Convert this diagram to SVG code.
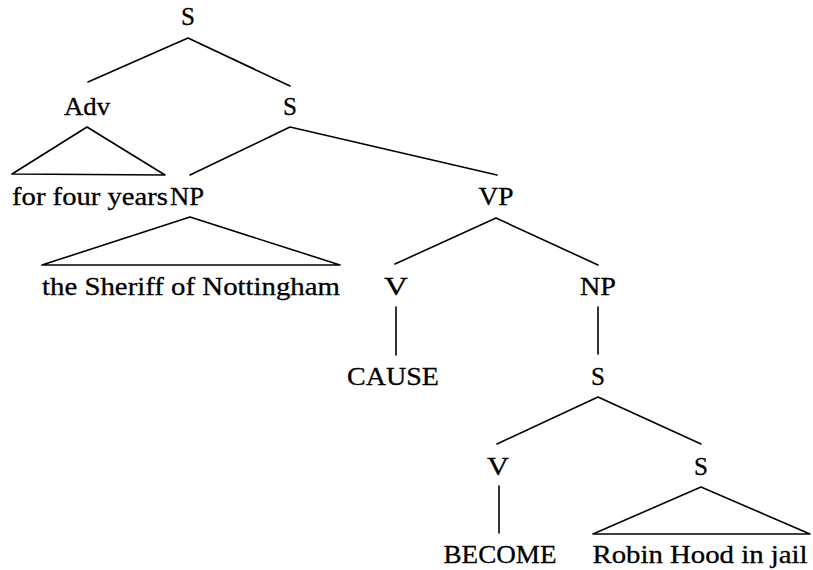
<svg xmlns="http://www.w3.org/2000/svg" width="813" height="570" viewBox="0 0 813 570">
<style>
text{font-family:"Liberation Serif","Times New Roman",serif;font-size:25px;fill:#000;text-anchor:middle;stroke:#000;stroke-width:0.3}
.e{stroke:#000;stroke-width:1.6;fill:none;stroke-linecap:round;stroke-linejoin:round}
</style>
<rect width="813" height="570" fill="#fff"/>
<g id="connectors">
<polyline class="e" points="88,82 188,38 290,86"/>
<polygon class="e" points="87,127 12,174 165,175"/>
<polyline class="e" points="190,175 290,127 497,175"/>
<polygon class="e" points="190,217 42,265 340,265"/>
<polyline class="e" points="395,264 496,218 598,265"/>
<line class="e" x1="396" y1="307" x2="396" y2="355"/>
<line class="e" x1="598" y1="307" x2="598" y2="354"/>
<polyline class="e" points="497,444 598,397 701,444"/>
<line class="e" x1="499" y1="486" x2="499" y2="533"/>
<polygon class="e" points="701,487 593,534 810,534"/>
</g>
<g id="n-s-top"><text x="188" y="25">S</text></g>
<g id="n-adv"><text x="87" y="115" textLength="46" lengthAdjust="spacingAndGlyphs">Adv</text></g>
<g id="n-s2"><text x="290" y="115">S</text></g>
<g id="n-ffy"><text x="90" y="205" textLength="156" lengthAdjust="spacingAndGlyphs">for four years</text></g>
<g id="n-np1"><text x="187" y="205" textLength="34" lengthAdjust="spacingAndGlyphs">NP</text></g>
<g id="n-vp"><text x="496" y="205" textLength="35" lengthAdjust="spacingAndGlyphs">VP</text></g>
<g id="n-sheriff"><text x="191" y="295" textLength="298" lengthAdjust="spacingAndGlyphs">the Sheriff of Nottingham</text></g>
<g id="n-v1"><text x="396" y="295" textLength="24" lengthAdjust="spacingAndGlyphs">V</text></g>
<g id="n-np2"><text x="598" y="295" textLength="36" lengthAdjust="spacingAndGlyphs">NP</text></g>
<g id="n-cause"><text x="393" y="385" textLength="92" lengthAdjust="spacingAndGlyphs">CAUSE</text></g>
<g id="n-s3"><text x="598" y="385">S</text></g>
<g id="n-v2"><text x="498" y="475" textLength="22" lengthAdjust="spacingAndGlyphs">V</text></g>
<g id="n-s4"><text x="701" y="475">S</text></g>
<g id="n-become"><text x="500" y="563" textLength="113" lengthAdjust="spacingAndGlyphs">BECOME</text></g>
<g id="n-robin"><text x="700" y="563" textLength="215" lengthAdjust="spacingAndGlyphs">Robin Hood in jail</text></g>
</svg>
